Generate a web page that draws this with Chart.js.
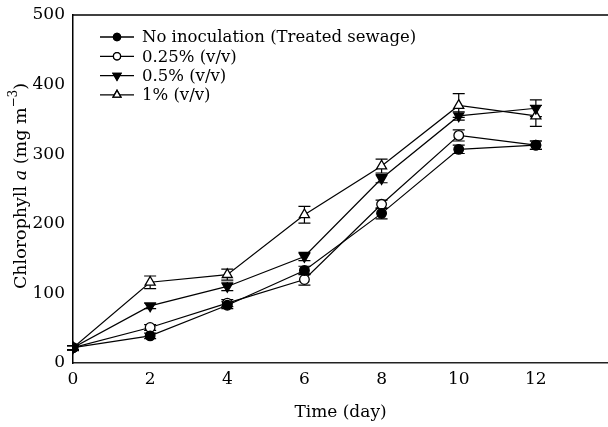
<!DOCTYPE html>
<html lang="en">
<head>
    <meta charset="UTF-8">
    <title>Chlorophyll a over time</title>
    <style>
        html, body { margin: 0; padding: 0; background: #fff; }
        #wrap { width: 608px; height: 427px; }
    </style>
    <script src="https://cdn.jsdelivr.net/npm/chart.js"></script>
</head>
<body>
    <div id="wrap"><canvas id="chlChart" width="608" height="427"></canvas></div>

    <script>
        // data
        const days = [0, 2, 4, 6, 8, 10, 12];
        const xTicks = [0, 2, 4, 6, 8, 10, 12];
        const yTicks = [0, 100, 200, 300, 400, 500];

        const noInoc = [22, 39, 83, 133, 215, 307, 313];
        const noInocErr = [3, 4, 5, 6, 8, 6, 6];
        const pct025 = [22, 51, 86, 120, 228, 327, 313];
        const pct025Err = [3, 4, 5, 8, 6, 8, 6];
        const pct05 = [22, 82, 110, 153, 265, 355, 366];
        const pct05Err = [3, 4, 6, 6, 6, 6, 12];
        const pct1 = [22, 116, 127, 213, 283, 370, 355];
        const pct1Err = [3, 9, 8, 12, 10, 17, 15];

        const labels = ['No inoculation (Treated sewage)', '0.25% (v/v)', '0.5% (v/v)', '1% (v/v)'];

        const FONT = '"DejaVu Serif", "Liberation Serif", serif';

        function series(label, vals, errs, style, fill, rot) {
            return {
                label: label,
                data: days.map((d, i) => ({ x: d, y: vals[i] })),
                errs: errs,
                borderColor: '#000',
                borderWidth: 1.2,
                pointStyle: style,
                pointRotation: rot || 0,
                pointRadius: style === 'circle' ? 4.8 : 5.8,
                pointBackgroundColor: fill,
                pointBorderColor: '#000',
                pointBorderWidth: 1.3,
                tension: 0
            };
        }

        // error bars, top frame line, y title and legend
        const extras = {
            id: 'extras',
            beforeDatasetsDraw(chart) {
                const ctx = chart.ctx, xs = chart.scales.x, ys = chart.scales.y;
                ctx.save();
                ctx.strokeStyle = '#000';
                ctx.lineWidth = 1.2;
                chart.data.datasets.forEach(ds => {
                    ds.data.forEach((p, i) => {
                        const e = ds.errs[i];
                        const px = xs.getPixelForValue(p.x);
                        const y1 = ys.getPixelForValue(p.y + e);
                        const y2 = ys.getPixelForValue(p.y - e);
                        ctx.beginPath();
                        ctx.moveTo(px, y1); ctx.lineTo(px, y2);
                        ctx.moveTo(px - 6, y1); ctx.lineTo(px + 6, y1);
                        ctx.moveTo(px - 6, y2); ctx.lineTo(px + 6, y2);
                        ctx.stroke();
                    });
                });
                ctx.restore();
            },
            afterDraw(chart) {
                const ctx = chart.ctx, area = chart.chartArea;
                ctx.save();
                // top frame line
                ctx.strokeStyle = '#000';
                ctx.lineWidth = 1.5;
                ctx.beginPath();
                ctx.moveTo(area.left, area.top);
                ctx.lineTo(chart.width, area.top);
                ctx.stroke();

                // y axis title with italic a and superscript
                ctx.translate(21, 186);
                ctx.rotate(-Math.PI / 2);
                ctx.fillStyle = '#000';
                ctx.textBaseline = 'middle';
                const parts = [
                    ['Chlorophyll ', '17.5px ' + FONT, 0],
                    ['a', 'italic 17.5px ' + FONT, 0],
                    [' (mg m', '17.5px ' + FONT, 0],
                    ['\u22123', '12px ' + FONT, -7],
                    [')', '17.5px ' + FONT, 0]
                ];
                let total = 0;
                parts.forEach(p => { ctx.font = p[1]; total += ctx.measureText(p[0]).width; });
                let x = -total / 2;
                parts.forEach(p => {
                    ctx.font = p[1];
                    ctx.fillText(p[0], x, p[2]);
                    x += ctx.measureText(p[0]).width;
                });
                ctx.restore();

                // legend
                ctx.save();
                ctx.font = '16.5px ' + FONT;
                ctx.textBaseline = 'middle';
                chart.data.datasets.forEach((ds, i) => {
                    const ly = 37 + i * 19.3;
                    ctx.strokeStyle = '#000';
                    ctx.lineWidth = 1.3;
                    ctx.beginPath();
                    ctx.moveTo(100, ly); ctx.lineTo(134, ly);
                    ctx.stroke();
                    Chart.helpers.drawPoint(ctx, {
                        pointStyle: ds.pointStyle,
                        rotation: ds.pointRotation,
                        radius: ds.pointStyle === 'circle' ? 3.6 : 4.5,
                        borderWidth: 1.3
                    }, 117, ly);
                    ctx.fillStyle = ds.pointBackgroundColor;
                    ctx.fill();
                    ctx.stroke();
                    ctx.fillStyle = '#000';
                    ctx.fillText(ds.label, 142, ly + 1);
                });
                ctx.restore();
            }
        };

        new Chart(document.getElementById('chlChart'), {
            type: 'line',
            data: {
                datasets: [
                    series(labels[0], noInoc, noInocErr, 'circle', '#000'),
                    series(labels[1], pct025, pct025Err, 'circle', '#fff'),
                    series(labels[2], pct05, pct05Err, 'triangle', '#000', 180),
                    series(labels[3], pct1, pct1Err, 'triangle', '#fff')
                ]
            },
            options: {
                responsive: false,
                animation: false,
                layout: { autoPadding: false, padding: { top: 15, right: 0, left: 0, bottom: 0 } },
                plugins: { legend: { display: false }, tooltip: { enabled: false } },
                scales: {
                    x: {
                        type: 'linear',
                        min: 0,
                        max: 13.87,
                        afterBuildTicks: s => { s.ticks = xTicks.map(v => ({ value: v })); },
                        afterFit: s => { s.height = 64; },
                        grid: { display: false, drawTicks: true, tickLength: 5, tickColor: '#000' },
                        border: { color: '#222', width: 1.5 },
                        ticks: { color: '#000', font: { family: FONT, size: 17 }, padding: 1, maxRotation: 0 },
                        title: { display: true, text: 'Time (day)', color: '#000', font: { family: FONT, size: 17 }, padding: { top: 4 } }
                    },
                    y: {
                        min: 0,
                        max: 500,
                        afterBuildTicks: s => { s.ticks = yTicks.map(v => ({ value: v })); },
                        afterFit: s => { s.width = 73; },
                        grid: { display: false, drawTicks: true, tickLength: 6, tickColor: '#000' },
                        border: { color: '#000', width: 1.5 },
                        ticks: { color: '#000', font: { family: FONT, size: 17 }, padding: 2 }
                    }
                }
            },
            plugins: [extras]
        });
    </script>
</body>
</html>
